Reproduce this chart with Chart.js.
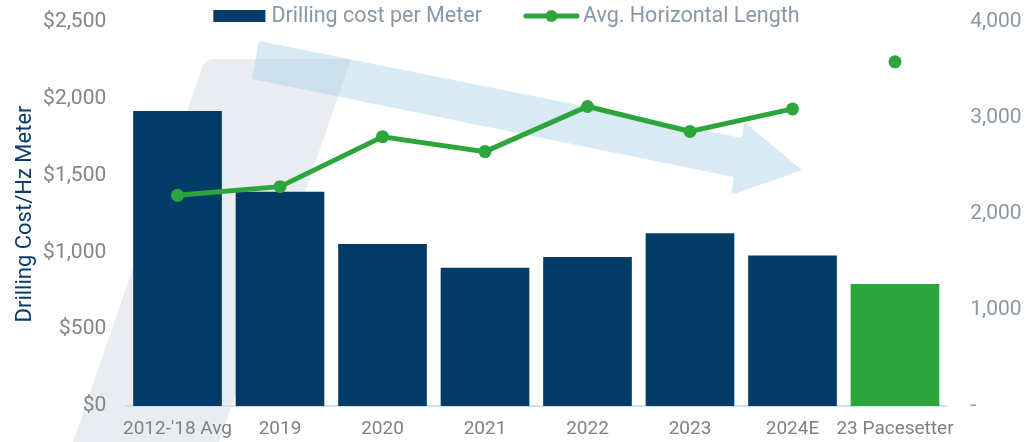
<!DOCTYPE html>
<html>
<head>
<meta charset="utf-8">
<title>Drilling cost per meter</title>
<script src="https://cdn.jsdelivr.net/npm/chart.js@4.4.1/dist/chart.umd.min.js"></script>
<style>
    html, body { margin: 0; padding: 0; background: #fff; }
    #chart { display: block; }
</style>
</head>
<body>
<canvas id="chart" width="1025" height="442"></canvas>
<script>
const categories = ["2012-'18 Avg", '2019', '2020', '2021', '2022', '2023', '2024E', '23 Pacesetter'];
const costPerMeter = [1920, 1395, 1055, 900, 970, 1125, 980, 795];
const horizontalLength = [2195, 2285, 2805, 2650, 3120, 2860, 3095, null];
const pacesetterLength = [null, null, null, null, null, null, null, 3585];
const costTicks = [0, 500, 1000, 1500, 2000, 2500];
const lengthTicks = [0, 1000, 2000, 3000, 4000];

const NAVY = '#023b66';
const GREEN = '#2ca63c';
const LABEL_GREY = '#858585';
const SLATE = '#8898a8';
const COST_LABEL = 'Drilling cost per Meter';
const LENGTH_LABEL = 'Avg. Horizontal Length';

Chart.defaults.font.family = 'Roboto, "Noto Sans", sans-serif';

// fixed axis sizes, no extra label padding from the layout
function pinSize(size) {
    return (scale) => {
        if (scale.isHorizontal()) {
            scale.height = size;
        } else {
            scale.width = size;
        }
        scale.paddingTop = 0;
        scale.paddingBottom = 0;
        scale.paddingLeft = 0;
        scale.paddingRight = 0;
    };
}

// grey slanted panel + light blue "cost going down" arrow behind the chart
const backdrop = {
    id: 'backdrop',
    beforeDraw(chart) {
        const ctx = chart.ctx;
        const h = chart.height;
        ctx.save();

        ctx.fillStyle = 'rgba(229, 234, 239, 0.85)';
        ctx.beginPath();
        ctx.moveTo(73, h);
        ctx.arcTo(205, 59, 351, 59, 12);
        ctx.lineTo(351, 59);
        ctx.lineTo(219, h);
        ctx.closePath();
        ctx.fill();

        ctx.fillStyle = 'rgba(160, 202, 227, 0.4)';
        ctx.beginPath();
        ctx.moveTo(259, 41);
        ctx.lineTo(742, 138);
        ctx.lineTo(744, 122);
        ctx.lineTo(802, 170);
        ctx.lineTo(731, 195);
        ctx.lineTo(734, 177);
        ctx.lineTo(252, 79);
        ctx.closePath();
        ctx.fill();

        ctx.restore();
    },
};

// legend drawn by hand: box swatch for the bars, line + dot for the line
const topLegend = {
    id: 'topLegend',
    afterDraw(chart) {
        const ctx = chart.ctx;
        ctx.save();
        ctx.font = '21.5px Roboto, "Noto Sans", sans-serif';
        ctx.textBaseline = 'alphabetic';
        ctx.textAlign = 'left';

        const w1 = ctx.measureText(COST_LABEL).width;
        const w2 = ctx.measureText(LENGTH_LABEL).width;
        const total = 52 + 6 + w1 + 42 + 55 + 4 + w2;
        let x = chart.width / 2 - 6 - total / 2;

        ctx.fillStyle = NAVY;
        ctx.fillRect(x, 10, 52, 12);
        x += 58;
        ctx.fillStyle = SLATE;
        ctx.fillText(COST_LABEL, x, 22);
        x += w1 + 42;

        ctx.strokeStyle = GREEN;
        ctx.lineWidth = 5;
        ctx.lineCap = 'round';
        ctx.beginPath();
        ctx.moveTo(x + 2, 16);
        ctx.lineTo(x + 53, 16);
        ctx.stroke();
        ctx.fillStyle = GREEN;
        ctx.beginPath();
        ctx.arc(x + 27.5, 16, 6, 0, Math.PI * 2);
        ctx.fill();
        x += 59;
        ctx.fillStyle = SLATE;
        ctx.fillText(LENGTH_LABEL, x, 22);

        ctx.restore();
    },
};

const barColors = categories.map((c) => (c === '23 Pacesetter' ? GREEN : NAVY));

new Chart(document.getElementById('chart'), {
    type: 'bar',
    data: {
        labels: categories,
        datasets: [
            {
                type: 'line',
                label: LENGTH_LABEL,
                data: horizontalLength,
                yAxisID: 'yLength',
                borderColor: GREEN,
                backgroundColor: GREEN,
                borderWidth: 5,
                pointRadius: 6.5,
                pointBorderWidth: 0,
                pointBackgroundColor: GREEN,
                tension: 0,
                order: 0,
            },
            {
                type: 'line',
                label: 'Pacesetter length',
                data: pacesetterLength,
                yAxisID: 'yLength',
                showLine: false,
                pointRadius: 6.5,
                pointBorderWidth: 0,
                pointBackgroundColor: GREEN,
                order: 0,
            },
            {
                label: COST_LABEL,
                data: costPerMeter,
                yAxisID: 'yCost',
                backgroundColor: barColors,
                borderWidth: 0,
                categoryPercentage: 1,
                barPercentage: 0.865,
                order: 1,
            },
        ],
    },
    options: {
        responsive: false,
        animation: false,
        devicePixelRatio: 1,
        layout: {
            padding: {top: 22, left: 0, right: 0, bottom: 0},
        },
        plugins: {
            legend: {display: false},
            tooltip: {enabled: false},
        },
        scales: {
            x: {
                afterFit: pinSize(36),
                grid: {display: false, drawTicks: false},
                border: {display: true, color: '#c9e3f5', width: 2},
                ticks: {
                    color: '#808080',
                    font: {size: 19},
                    padding: 12,
                    maxRotation: 0,
                    autoSkip: false,
                },
            },
            yCost: {
                position: 'left',
                min: 0,
                max: 2500,
                afterFit: pinSize(126.25),
                grid: {display: false, drawTicks: false},
                border: {display: false},
                afterBuildTicks: (axis) => {
                    axis.ticks = costTicks.map((value) => ({value}));
                },
                ticks: {
                    color: LABEL_GREY,
                    font: {size: 21},
                    padding: 20,
                    callback: (value) => '$' + value.toLocaleString('en-US'),
                },
                title: {
                    display: true,
                    text: 'Drilling Cost/Hz Meter',
                    color: '#0b3c6b',
                    font: {size: 22},
                    padding: {top: 12, bottom: 4},
                },
            },
            yLength: {
                position: 'right',
                min: 0,
                max: 4000,
                afterFit: pinSize(78.75),
                grid: {display: false, drawTicks: false},
                border: {display: false},
                afterBuildTicks: (axis) => {
                    axis.ticks = lengthTicks.map((value) => ({value}));
                },
                ticks: {
                    color: SLATE,
                    font: {size: 21},
                    padding: 24,
                    callback: (value) => (value === 0 ? '-' : value.toLocaleString('en-US')),
                },
            },
        },
    },
    plugins: [backdrop, topLegend],
});
</script>
</body>
</html>
